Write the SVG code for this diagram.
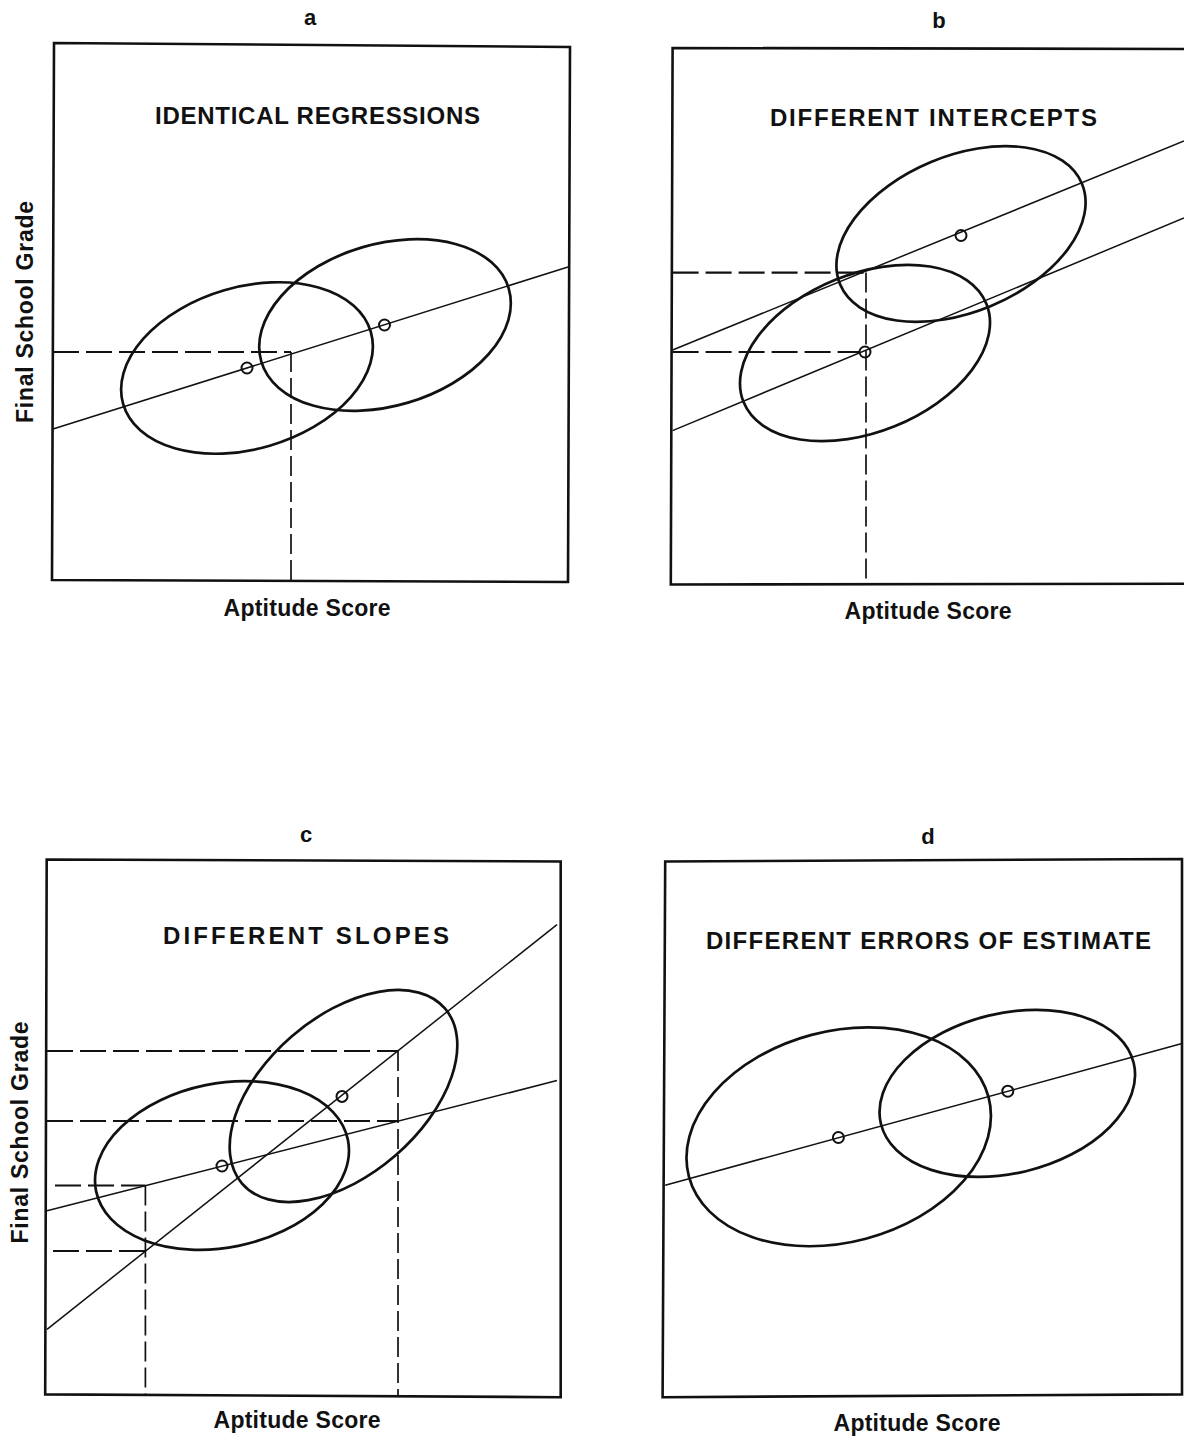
<svg xmlns="http://www.w3.org/2000/svg" width="1184" height="1439" viewBox="0 0 1184 1439">
<style>
text{font-family:"Liberation Sans",Arial,sans-serif;font-weight:bold;fill:#111}
.title{font-size:24px}
.axis{font-size:23px}
.letter{font-size:22px}
.box{fill:none;stroke:#111;stroke-width:2.6}
.ell{fill:none;stroke:#111;stroke-width:2.7}
.reg{fill:none;stroke:#111;stroke-width:1.5}
.dash{fill:none;stroke:#111;stroke-width:2.2;stroke-dasharray:26 7}
.vdash{fill:none;stroke:#111;stroke-width:1.7;stroke-dasharray:20 6}
.pt{fill:none;stroke:#111;stroke-width:2}
</style>
<rect x="0" y="0" width="1184" height="1439" fill="#fff"/>

<g id="panel-a">
<text class="letter" x="310" y="25" text-anchor="middle">a</text>
<path class="box" d="M54,43 L570,47 L568,582 L52,580 Z"/>
<text class="title" x="155" y="124" textLength="325" lengthAdjust="spacing">IDENTICAL REGRESSIONS</text>
<ellipse class="ell" cx="247" cy="368" rx="129" ry="81" transform="rotate(-16.3 247 368)"/>
<ellipse class="ell" cx="385" cy="325" rx="129" ry="81" transform="rotate(-16.5 385 325)"/>
<line class="reg" x1="53" y1="429" x2="568" y2="267"/>
<line class="dash" x1="53" y1="352" x2="291" y2="352"/>
<line class="vdash" x1="291" y1="352" x2="291" y2="580"/>
<circle class="pt" cx="247" cy="368" r="5.5"/>
<circle class="pt" cx="384.5" cy="325" r="5.5"/>
<text class="axis" x="307" y="616" text-anchor="middle" textLength="167" lengthAdjust="spacing">Aptitude Score</text>
<text class="axis" transform="translate(33 312) rotate(-90)" text-anchor="middle" textLength="222" lengthAdjust="spacing">Final School Grade</text>
</g>

<g id="panel-b">
<text class="letter" x="939" y="28" text-anchor="middle">b</text>
<path class="box" d="M1190,49 L672.6,48 L670.8,584.5 L1190,583.7"/>
<text class="title" x="770" y="126" textLength="327" lengthAdjust="spacing">DIFFERENT INTERCEPTS</text>
<ellipse class="ell" cx="961" cy="234" rx="131" ry="78" transform="rotate(-22.6 961 234)"/>
<ellipse class="ell" cx="865" cy="353" rx="131" ry="79" transform="rotate(-22 865 353)"/>
<line class="reg" x1="672.6" y1="350" x2="1184" y2="141"/>
<line class="reg" x1="672.6" y1="430.6" x2="1184" y2="218"/>
<line class="dash" x1="672.6" y1="272.6" x2="866" y2="272.6"/>
<line class="dash" x1="672.6" y1="352" x2="860" y2="352"/>
<line class="vdash" x1="866" y1="272.6" x2="866" y2="584"/>
<circle class="pt" cx="961" cy="235.5" r="5.5"/>
<circle class="pt" cx="865" cy="352" r="5.5"/>
<text class="axis" x="928" y="619" text-anchor="middle" textLength="167" lengthAdjust="spacing">Aptitude Score</text>
</g>

<g id="panel-c">
<text class="letter" x="306" y="842" text-anchor="middle">c</text>
<path class="box" d="M46.7,859.5 L560.7,861.5 L560.7,1397.2 L45.2,1394.4 Z"/>
<text class="title" x="163" y="944" textLength="286" lengthAdjust="spacing">DIFFERENT SLOPES</text>
<ellipse class="ell" cx="222" cy="1165.5" rx="128.5" ry="82" transform="rotate(-11.5 222 1165.5)"/>
<ellipse class="ell" cx="343.5" cy="1096" rx="134" ry="79" transform="rotate(-40.8 343.5 1096)"/>
<line class="reg" x1="47" y1="1329.3" x2="557" y2="924.6"/>
<line class="reg" x1="47" y1="1210.8" x2="557" y2="1080.6"/>
<line class="dash" x1="47" y1="1051" x2="398" y2="1051"/>
<line class="dash" x1="47" y1="1121" x2="398" y2="1121"/>
<line class="dash" x1="55" y1="1185.5" x2="145.4" y2="1185.5"/>
<line class="dash" x1="53" y1="1251" x2="145.4" y2="1251"/>
<line class="vdash" x1="398" y1="1051" x2="398" y2="1396"/>
<line class="vdash" x1="145.4" y1="1185.5" x2="145.4" y2="1395"/>
<circle class="pt" cx="222" cy="1166" r="5.5"/>
<circle class="pt" cx="342" cy="1096.4" r="5.5"/>
<text class="axis" x="297" y="1428" text-anchor="middle" textLength="167" lengthAdjust="spacing">Aptitude Score</text>
<text class="axis" transform="translate(28 1132.5) rotate(-90)" text-anchor="middle" textLength="222" lengthAdjust="spacing">Final School Grade</text>
</g>

<g id="panel-d">
<text class="letter" x="928" y="844" text-anchor="middle">d</text>
<path class="box" d="M665.2,861.5 L1182,859 L1182,1394.4 L662.6,1397.2 Z"/>
<text class="title" x="706" y="949" textLength="445" lengthAdjust="spacing">DIFFERENT ERRORS OF ESTIMATE</text>
<ellipse class="ell" cx="838.7" cy="1136.8" rx="155" ry="105.5" transform="rotate(-14.9 838.7 1136.8)"/>
<ellipse class="ell" cx="1007.3" cy="1093.4" rx="130" ry="80" transform="rotate(-13.5 1007.3 1093.4)"/>
<line class="reg" x1="665.2" y1="1185.2" x2="1182" y2="1043.5"/>
<circle class="pt" cx="838.4" cy="1137.5" r="5.5"/>
<circle class="pt" cx="1007.8" cy="1091.2" r="5.5"/>
<text class="axis" x="917" y="1431" text-anchor="middle" textLength="167" lengthAdjust="spacing">Aptitude Score</text>
</g>
</svg>
